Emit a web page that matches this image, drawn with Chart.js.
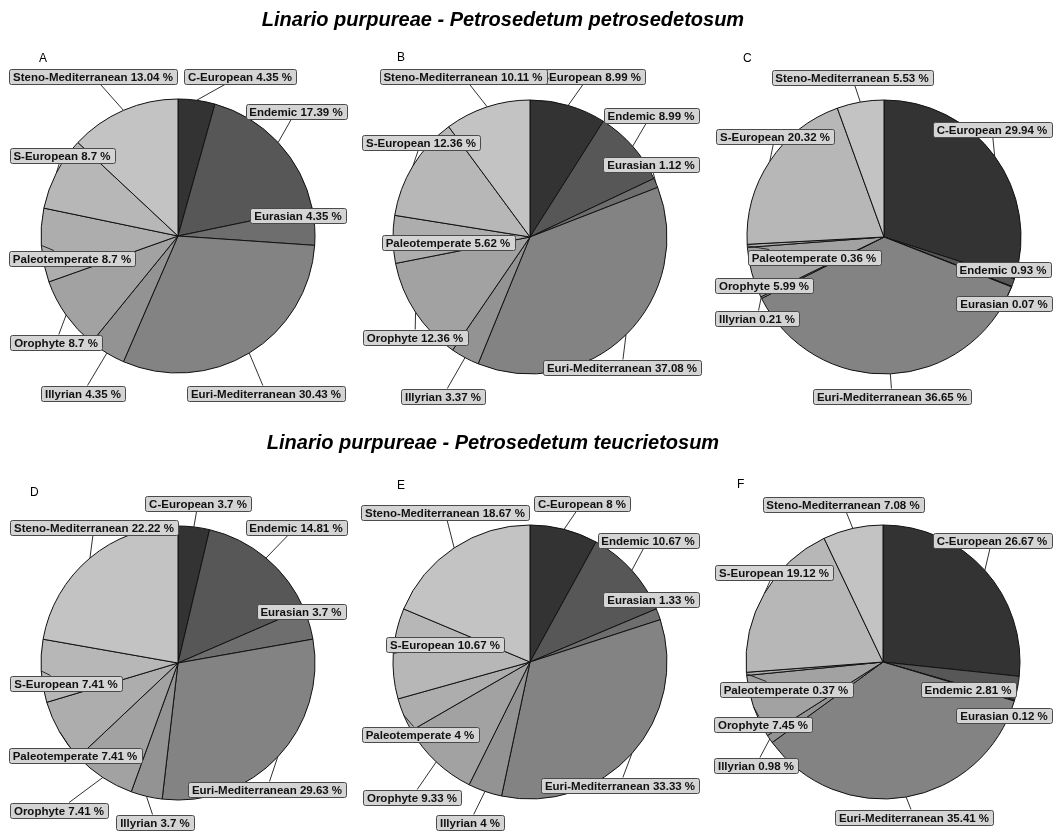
<!DOCTYPE html>
<html>
<head>
<meta charset="utf-8">
<script src="https://cdn.jsdelivr.net/npm/chart.js@4.4.1/dist/chart.umd.min.js"></script>
<style>
  html, body { margin: 0; padding: 0; background: #fff; }
  #wrap { position: relative; width: 1057px; height: 832px; }
  #wrap canvas { position: absolute; left: 0; top: 0; }
</style>
</head>
<body>
<div id="wrap"></div>
<script>
// chorotypes, clockwise from 12 o'clock
const categories = ['C-European', 'Endemic', 'Eurasian', 'Euri-Mediterranean', 'Illyrian',
  'Orophyte', 'Paleotemperate', 'S-European', 'Steno-Mediterranean'];

// percentages per relevé group
const valuesA = [4.35, 17.39, 4.35, 30.43, 4.35, 8.7, 8.7, 8.7, 13.04];
const valuesB = [8.99, 8.99, 1.12, 37.08, 3.37, 12.36, 5.62, 12.36, 10.11];
const valuesC = [29.94, 0.93, 0.07, 36.65, 0.21, 5.99, 0.36, 20.32, 5.53];
const valuesD = [3.7, 14.81, 3.7, 29.63, 3.7, 7.41, 7.41, 7.41, 22.22];
const valuesE = [8, 10.67, 1.33, 33.33, 4, 9.33, 4, 10.67, 18.67];
const valuesF = [26.67, 2.81, 0.12, 35.41, 0.98, 7.45, 0.37, 19.12, 7.08];

const titleTop = 'Linario purpureae - Petrosedetum petrosedetosum';
const titleBottom = 'Linario purpureae - Petrosedetum teucrietosum';

const greys = ['#333333', '#575757', '#6e6e6e', '#838383', '#939393',
  '#a2a2a2', '#adadad', '#b7b7b7', '#c3c3c3'];

// label box centres (page px), same order as categories
const labelPosA = [[240,76],[296,111],[298,215],[266,393],[83,393],[56,342],[72,258],[62,155],[93,76]];
const labelPosB = [[589,76],[651,115],[651,164],[622,367],[443,396],[415,337],[448,242],[421,142],[463,76]];
const labelPosC = [[992,129],[1003,269],[1004,303],[892,396],[757,318],[764,285],[814,257],[775,136],[852,77]];
const labelPosD = [[198,503],[296,527],[301,611],[267,789],[155,822],[59,810],[75,755],[66,683],[94,527]];
const labelPosE = [[582,503],[648,540],[651,599],[620,785],[470,822],[412,797],[420,734],[445,644],[445,512]];
const labelPosF = [[992,540],[968,689],[1004,715],[914,817],[756,765],[763,724],[786,689],[774,572],[843,504]];

const W = 1057, H = 832, R = 137, HALF = 150;
const FONT = "'Liberation Sans', Arial, sans-serif";

const panels = [
  { letter: 'A', at: [39, 62],  cx: 178, cy: 236, values: valuesA, pos: labelPosA, title: titleTop, titleAt: [503, 26] },
  { letter: 'B', at: [397, 61], cx: 530, cy: 237, values: valuesB, pos: labelPosB },
  { letter: 'C', at: [743, 62], cx: 884, cy: 237, values: valuesC, pos: labelPosC },
  { letter: 'D', at: [30, 496], cx: 178, cy: 663, values: valuesD, pos: labelPosD, title: titleBottom, titleAt: [493, 449] },
  { letter: 'E', at: [397, 489], cx: 530, cy: 662, values: valuesE, pos: labelPosE },
  { letter: 'F', at: [737, 488], cx: 883, cy: 662, values: valuesF, pos: labelPosF }
];

const pieLabels = {
  id: 'pieLabels',
  afterDraw(chart, args, opts) {
    const ctx = chart.ctx;
    const meta = chart.getDatasetMeta(0);
    const vals = chart.data.datasets[0].data;
    ctx.save();
    ctx.font = `bold 11.5px ${FONT}`;
    const boxes = meta.data.map((arc, i) => {
      const text = `${chart.data.labels[i]} ${vals[i]} %`;
      const w = Math.round(ctx.measureText(text).width + 8), h = 15;
      const [lx, ly] = opts.pos[i];
      const mid = (arc.startAngle + arc.endAngle) / 2;
      return {
        text, w, h, lx, ly,
        ax: arc.x + Math.cos(mid) * arc.outerRadius,
        ay: arc.y + Math.sin(mid) * arc.outerRadius
      };
    });

    // leader segments first, labels on top
    ctx.strokeStyle = '#1a1a1a';
    ctx.lineWidth = 0.9;
    boxes.forEach(b => {
      const dx = b.ax - b.lx, dy = b.ay - b.ly;
      const tx = dx !== 0 ? (b.w / 2) / Math.abs(dx) : Infinity;
      const ty = dy !== 0 ? (b.h / 2) / Math.abs(dy) : Infinity;
      const t = Math.min(tx, ty);
      if (t >= 1) return;
      const sx = b.lx + dx * t, sy = b.ly + dy * t;
      if (Math.hypot(b.ax - sx, b.ay - sy) < 9) return;
      ctx.beginPath();
      ctx.moveTo(sx, sy);
      ctx.lineTo(b.ax, b.ay);
      ctx.stroke();
    });

    boxes.forEach(b => {
      const x = Math.round(b.lx - b.w / 2) + 0.5, y = Math.round(b.ly - b.h / 2) + 0.5;
      ctx.beginPath();
      ctx.roundRect(x, y, b.w, b.h, 2);
      ctx.fillStyle = '#d4d4d4';
      ctx.fill();
      ctx.strokeStyle = '#4a4a4a';
      ctx.lineWidth = 1;
      ctx.stroke();
      ctx.fillStyle = '#111';
      ctx.textAlign = 'center';
      ctx.textBaseline = 'middle';
      ctx.fillText(b.text, Math.round(b.lx), y + b.h / 2 + 0.5);
    });

    // panel letter
    ctx.fillStyle = '#000';
    ctx.textAlign = 'left';
    ctx.textBaseline = 'alphabetic';
    ctx.font = `12px ${FONT}`;
    ctx.fillText(opts.letter, opts.at[0], opts.at[1]);

    if (opts.title) {
      ctx.font = `italic bold 20px ${FONT}`;
      ctx.textAlign = 'center';
      ctx.fillText(opts.title, opts.titleAt[0], opts.titleAt[1]);
    }
    ctx.restore();
  }
};

const wrap = document.getElementById('wrap');
panels.forEach(p => {
  const canvas = document.createElement('canvas');
  canvas.width = W;
  canvas.height = H;
  wrap.appendChild(canvas);
  new Chart(canvas, {
    type: 'pie',
    data: {
      labels: categories,
      datasets: [{
        data: p.values,
        backgroundColor: greys,
        borderColor: '#111',
        borderWidth: 1,
        hoverOffset: 0
      }]
    },
    options: {
      responsive: false,
      devicePixelRatio: 1,
      animation: false,
      radius: R,
      layout: {
        padding: { left: p.cx - HALF, right: W - p.cx - HALF, top: p.cy - HALF, bottom: H - p.cy - HALF }
      },
      plugins: {
        legend: { display: false },
        tooltip: { enabled: false },
        pieLabels: { pos: p.pos, letter: p.letter, at: p.at, title: p.title, titleAt: p.titleAt }
      }
    },
    plugins: [pieLabels]
  });
});
</script>
</body>
</html>
